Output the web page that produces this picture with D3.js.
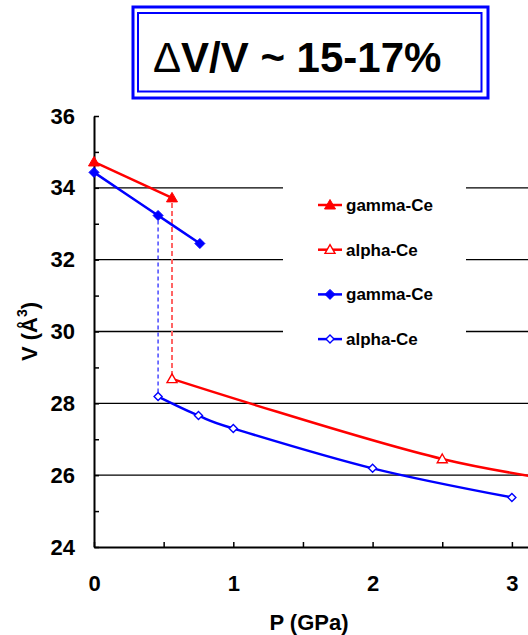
<!DOCTYPE html>
<html>
<head>
<meta charset="utf-8">
<script src="https://cdn.jsdelivr.net/npm/d3@7"></script>
<style>
  body { margin: 0; background: #fff; }
  svg { display: block; }
  text { font-family: "Liberation Sans", Arial, sans-serif; font-weight: bold; fill: #000; }
</style>
</head>
<body>
<svg id="chart" width="528" height="635"></svg>
<script>
// Cerium volume vs pressure across the gamma -> alpha transition
const gammaRedP  = [0, 0.56];
const gammaRedV  = [34.72, 33.72];
const alphaRedP  = [0.56, 2.5, 4.0];
const alphaRedV  = [28.68, 26.45, 25.5];
const gammaBlueP = [0, 0.46, 0.76];
const gammaBlueV = [34.43, 33.23, 32.45];
const alphaBlueP = [0.46, 0.75, 1.0, 2.0, 3.0];
const alphaBlueV = [28.19, 27.66, 27.3, 26.19, 25.38];

const xTickValues = [0, 1, 2, 3];
const yTickValues = [24, 26, 28, 30, 32, 34, 36];
const legendLabels = ["gamma-Ce", "alpha-Ce", "gamma-Ce", "alpha-Ce"];
const titleDelta = "\u0394";
const titleRest = "V/V ~ 15-17%";
const xTitle = "P (GPa)";

const RED = "#ff0000", BLUE = "#0000ff";

const svg = d3.select("#chart");
svg.append("rect").attr("width", 528).attr("height", 635).attr("fill", "#fff");

const x = d3.scaleLinear().domain([0, 3.5]).range([94, 94 + 3.5 * 139.3]);
const y = d3.scaleLinear().domain([24, 36]).range([547, 116]);

const zip = (P, V) => P.map((p, i) => ({ p, v: V[i] }));

// horizontal gridlines at the major values (not the bottom/top)
svg.append("g").selectAll("line")
  .data(yTickValues.filter(v => v > 24 && v < 36))
  .join("line")
  .attr("x1", x(0)).attr("x2", x.range()[1])
  .attr("y1", d => y(d)).attr("y2", d => y(d))
  .attr("stroke", "#000").attr("stroke-width", 1.3);

// legend panel covers the gridlines behind it
const legend = svg.append("g");
legend.append("rect")
  .attr("x", 283).attr("y", 178).attr("width", 183).attr("height", 184)
  .attr("fill", "#fff");

// axes (ticks pointing inward)
const yMinor = d3.range(24, 36.01, 1);
const yAxis = d3.axisLeft(y)
  .tickValues(yMinor)
  .tickSizeInner(-5).tickSizeOuter(0).tickPadding(19)
  .tickFormat(d => (d % 2 === 0 ? d3.format("d")(d) : ""));
const gy = svg.append("g").attr("transform", `translate(${x(0)},0)`).call(yAxis);
gy.selectAll("text").style("font-size", "22px");

const xMinor = d3.range(0, 3.51, 0.5);
const xAxis = d3.axisBottom(x)
  .tickValues(xMinor)
  .tickSizeInner(-5).tickSizeOuter(0).tickPadding(28)
  .tickFormat(d => (xTickValues.includes(d) ? d3.format("d")(d) : ""));
const gx = svg.append("g").attr("transform", `translate(0,${y(24)})`).call(xAxis);
gx.selectAll("text").style("font-size", "22px");

[gx, gy].forEach(g => {
  g.select(".domain").attr("stroke", "#000").attr("stroke-width", 2);
  g.selectAll(".tick line").attr("stroke", "#000").attr("stroke-width", 1.5);
});

// vertical dashed transition connectors
const connectors = [
  { p: gammaBlueP[1], v0: gammaBlueV[1], v1: alphaBlueV[0], color: "#3c3cff", w: 1.4, dash: "4,3" },
  { p: gammaRedP[1],  v0: gammaRedV[1],  v1: alphaRedV[0],  color: "#ff6464", w: 2,   dash: "5,3" }
];
svg.append("g").selectAll("line").data(connectors).join("line")
  .attr("x1", d => x(d.p)).attr("x2", d => x(d.p))
  .attr("y1", d => y(d.v0) + 5).attr("y2", d => y(d.v1) - 4)
  .attr("stroke", d => d.color).attr("stroke-width", d => d.w)
  .attr("stroke-dasharray", d => d.dash);

// marker shapes
const triFilled = "M0,-5.5L5.5,4L-5.5,4Z";
const triOpen   = "M0,-5L5,3.7L-5,3.7Z";
const diaFilled = "M0,-5L5,0L0,5L-5,0Z";
const diaOpen   = "M0,-4L4,0L0,4L-4,0Z";

const series = [
  { data: zip(gammaRedP, gammaRedV),   color: RED,  marker: triFilled, filled: true },
  { data: zip(alphaRedP, alphaRedV),   color: RED,  marker: triOpen,   filled: false },
  { data: zip(gammaBlueP, gammaBlueV), color: BLUE, marker: diaFilled, filled: true },
  { data: zip(alphaBlueP, alphaBlueV), color: BLUE, marker: diaOpen,   filled: false }
];

const line = d3.line().x(d => x(d.p)).y(d => y(d.v)).curve(d3.curveCardinal.tension(0));

const plot = svg.append("g");
series.forEach(s => {
  plot.append("path").datum(s.data)
    .attr("d", line)
    .attr("fill", "none").attr("stroke", s.color).attr("stroke-width", 2.5);
});
series.forEach(s => {
  plot.append("g").selectAll("path").data(s.data).join("path")
    .attr("transform", d => `translate(${x(d.p)},${y(d.v)})`)
    .attr("d", s.marker)
    .attr("fill", s.filled ? s.color : "#fff")
    .attr("stroke", s.color).attr("stroke-width", s.filled ? 1 : 1.4);
});

// legend entries
series.forEach((s, i) => {
  const cy = 205 + i * 44.7;
  const g = legend.append("g").attr("transform", `translate(0,${cy})`);
  g.append("line").attr("x1", 318).attr("x2", 342).attr("y1", 0).attr("y2", 0)
    .attr("stroke", s.color).attr("stroke-width", 2.5);
  g.append("path").attr("transform", "translate(330,0)")
    .attr("d", s.marker)
    .attr("fill", s.filled ? s.color : "#fff")
    .attr("stroke", s.color).attr("stroke-width", s.filled ? 1 : 1.4);
  g.append("text").attr("x", 346).attr("y", 6)
    .style("font-size", "17px").text(legendLabels[i]);
});

// axis titles
svg.append("text")
  .attr("x", 309).attr("y", 630)
  .attr("text-anchor", "middle")
  .style("font-size", "22px")
  .text(xTitle);

const yt = svg.append("text")
  .attr("transform", `translate(37,${(y(24) + y(36)) / 2}) rotate(-90)`)
  .attr("text-anchor", "middle")
  .style("font-size", "22px");
yt.append("tspan").text("V (\u00c5");
yt.append("tspan").attr("dy", -10).style("font-size", "14px").text("3");
yt.append("tspan").attr("dy", 10).text(")");

// boxed title with double blue border
svg.append("rect").attr("x", 133).attr("y", 7).attr("width", 355).attr("height", 91)
  .attr("fill", "#fff").attr("stroke", BLUE).attr("stroke-width", 3);
svg.append("rect").attr("x", 138).attr("y", 13).attr("width", 343.5).attr("height", 78.5)
  .attr("fill", "none").attr("stroke", BLUE).attr("stroke-width", 2);
const title = svg.append("text").attr("x", 153).attr("y", 72).style("font-size", "42px");
title.append("tspan").style("font-weight", "normal").text(titleDelta);
title.append("tspan").text(titleRest);
</script>
</body>
</html>
